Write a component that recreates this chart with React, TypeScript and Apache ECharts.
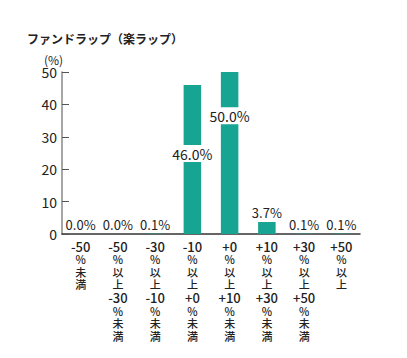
import React, { useEffect, useRef } from "react";
import * as echarts from "echarts";

const titleText = "ファンドラップ（楽ラップ）";
const unitText = "(%)";
const categories = [
  "-50\n%\n未\n満",
  "-50\n%\n以\n上\n-30\n%\n未\n満",
  "-30\n%\n以\n上\n-10\n%\n未\n満",
  "-10\n%\n以\n上\n+0\n%\n未\n満",
  "+0\n%\n以\n上\n+10\n%\n未\n満",
  "+10\n%\n以\n上\n+30\n%\n未\n満",
  "+30\n%\n以\n上\n+50\n%\n未\n満",
  "+50\n%\n以\n上",
];
const values = [0.0, 0.0, 0.1, 46.0, 50.0, 3.7, 0.1, 0.1];
// label placement per bar: "top" (null) or inside at a fraction of the bar's height
const labelInside: (string | null)[] = [null, null, null, "46%", "27%", null, null, null];

const FONT = "'Noto Sans CJK JP', 'Noto Sans', sans-serif";
const BAR = "#17a493";

export default function App() {
  const ref = useRef<HTMLDivElement>(null);
  useEffect(() => {
    const chart = echarts.init(ref.current!, undefined, { renderer: "svg" });
    const data = values.map((v, i) => {
      const pos = labelInside[i];
      if (pos) {
        return {
          value: v,
          label: {
            position: ["50%", pos],
            align: "center",
            verticalAlign: "middle",
            fontSize: 14,
            backgroundColor: "#fff",
            padding: [2, 0, 1, 0],
            distance: 0,
          },
        };
      }
      return { value: v };
    });
    chart.setOption({
      animation: false,
      textStyle: { fontFamily: FONT },
      title: [
        {
          text: titleText,
          left: 22,
          top: 27,
          textStyle: { fontSize: 12, lineHeight: 13, fontWeight: "bold", color: "#222", fontFamily: FONT },
        },
        {
          text: unitText,
          left: 39,
          top: 48,
          textStyle: { fontSize: 12, lineHeight: 12, fontWeight: "normal", color: "#222", fontFamily: FONT },
        },
      ],
      grid: { left: 62, right: 47, top: 72, bottom: 124, containLabel: false },
      xAxis: {
        type: "category",
        data: categories,
        axisLine: { show: true, lineStyle: { color: "#333", width: 1.5 } },
        axisTick: { show: false },
        axisLabel: {
          interval: 0,
          margin: 5,
          fontSize: 12,
          lineHeight: 13,
          color: "#222",
          fontFamily: FONT,
          align: "center",
          formatter: (v: string) =>
            v
              .split("\n")
              .map((s) => (/[0-9]/.test(s) ? `{d|${s}}` : `{c|${s}}`))
              .join("\n"),
          rich: {
            d: { fontSize: 13, lineHeight: 14, fontWeight: 500, color: "#222", fontFamily: FONT },
            c: { fontSize: 11, lineHeight: 12.5, fontWeight: 500, color: "#222", fontFamily: FONT },
          },
        },
      },
      yAxis: {
        type: "value",
        min: 0,
        max: 50,
        interval: 10,
        splitLine: { show: false },
        axisLine: { show: true, lineStyle: { color: "#888", width: 1.5 } },
        axisTick: { show: true, inside: true, length: 7, lineStyle: { color: "#555" } },
        axisLabel: { fontSize: 14, color: "#222", margin: 5, fontFamily: FONT },
      },
      series: [
        {
          type: "bar",
          data,
          barWidth: "47%",
          itemStyle: { color: BAR },
          label: {
            show: true,
            position: "top",
            distance: 3,
            fontSize: 13,
            color: "#222",
            fontFamily: FONT,
            formatter: (p: any) => p.value.toFixed(1) + "%",
          },
        },
      ],
    });
    return () => chart.dispose();
  }, []);
  return <div ref={ref} style={{ width: 407, height: 358, position: "absolute", left: 0, top: 0 }} />;
}
